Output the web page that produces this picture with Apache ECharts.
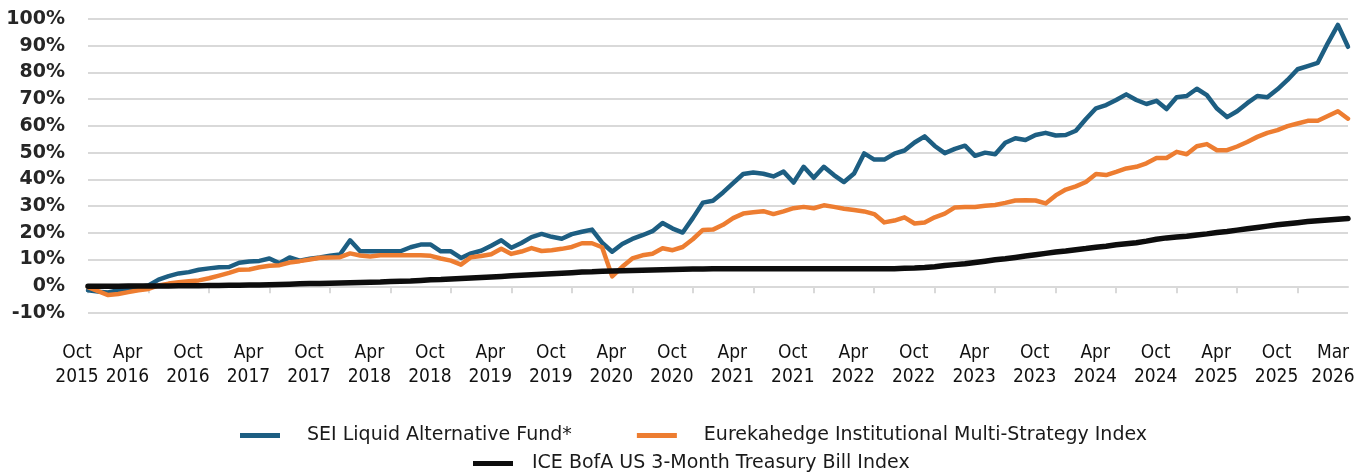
<!DOCTYPE html>
<html>
<head>
<meta charset="utf-8">
<script src="https://cdn.jsdelivr.net/npm/echarts@6/dist/echarts.min.js"></script>
<style>
  html, body { margin: 0; padding: 0; background: #fff; }
  #chart { width: 1372px; height: 473px; }
</style>
</head>
<body>
<div id="chart"></div>
<script>
// monthly points, Oct 2015 .. Mar 2026
const monthNames = ["Jan", "Feb", "Mar", "Apr", "May", "Jun", "Jul", "Aug", "Sep", "Oct", "Nov", "Dec"];
const months = [];
for (let y = 2015, m = 9; y < 2026 || m <= 2; m++) {
  if (m > 11) { m = 0; y++; }
  months.push(monthNames[m] + " " + y);
}

const seiFund = [
  -1.5, -2.0, -2.3, -1.5, -0.8, -0.3, 0.3, 2.5, 3.8, 4.8, 5.3, 6.2,
  6.7, 7.1, 7.2, 8.8, 9.3, 9.5, 10.4, 8.6, 10.8, 9.6, 10.3, 10.8,
  11.4, 11.9, 17.2, 13.1, 13.1, 13.1, 13.1, 13.1, 14.6, 15.6, 15.6, 13.1,
  13.1, 10.6, 12.3, 13.3, 15.2, 17.2, 14.4, 16.2, 18.4, 19.6, 18.5, 17.8,
  19.5, 20.4, 21.2, 16.3, 12.9, 15.8, 17.7, 19.1, 20.6, 23.7, 21.6, 20.1,
  25.5, 31.3, 32.0, 35.1, 38.6, 42.0, 42.6, 42.1, 41.1, 42.9, 38.8, 44.7,
  40.6, 44.7, 41.6, 39.0, 42.2, 49.7, 47.4, 47.4, 49.6, 50.8, 53.8, 56.1,
  52.5, 49.8, 51.4, 52.6, 48.8, 50.0, 49.4, 53.7, 55.4, 54.7, 56.6, 57.4,
  56.4, 56.6, 58.2, 62.6, 66.6, 67.8, 69.7, 71.8, 69.7, 68.2, 69.4, 66.3,
  70.7, 71.2, 73.9, 71.5, 66.5, 63.3, 65.5, 68.5, 71.2, 70.7, 73.7, 77.2,
  81.2, 82.4, 83.6, 91.0, 97.8, 89.6
];

const eurekahedge = [
  -0.3, -1.8, -3.3, -2.9, -2.2, -1.5, -1.0, 0.3, 1.0, 1.5, 1.9, 2.2,
  3.0, 4.0, 5.0, 6.2, 6.3, 7.1, 7.7, 7.9, 8.9, 9.4, 10.0, 10.7,
  10.8, 10.9, 12.3, 11.5, 11.1, 11.6, 11.6, 11.6, 11.6, 11.6, 11.4, 10.4,
  9.6, 8.1, 10.9, 11.3, 12.0, 14.0, 12.1, 13.0, 14.3, 13.2, 13.5, 14.0,
  14.7, 16.1, 16.1, 14.6, 3.7, 7.3, 10.4, 11.6, 12.2, 14.2, 13.5, 14.7,
  17.6, 21.1, 21.2, 23.0, 25.5, 27.2, 27.7, 28.1, 27.0, 28.0, 29.2, 29.7,
  29.2, 30.3, 29.7, 29.0, 28.5, 28.0, 27.0, 23.9, 24.6, 25.8, 23.5, 23.9,
  25.8, 27.2, 29.5, 29.7, 29.7, 30.1, 30.4, 31.2, 32.1, 32.2, 32.1, 31.0,
  34.0, 36.2, 37.4, 39.0, 42.0, 41.6, 42.8, 44.1, 44.7, 46.0, 48.0, 48.0,
  50.3, 49.4, 52.4, 53.2, 50.9, 50.9, 52.3, 54.0, 55.9, 57.4, 58.4, 59.9,
  60.9, 61.9, 61.9, 63.7, 65.5, 62.7
];

const tBill = [
  0.0, 0.0, 0.0, 0.0, 0.1, 0.1, 0.1, 0.1, 0.1, 0.2, 0.2, 0.2,
  0.3, 0.3, 0.4, 0.4, 0.5, 0.5, 0.6, 0.7, 0.8, 0.9, 1.0, 1.0,
  1.1, 1.2, 1.3, 1.4, 1.5, 1.6, 1.8, 1.9, 2.0, 2.2, 2.4, 2.5,
  2.7, 2.9, 3.1, 3.3, 3.5, 3.7, 3.9, 4.1, 4.3, 4.5, 4.7, 4.9,
  5.1, 5.3, 5.4, 5.6, 5.7, 5.8, 5.9, 6.0, 6.1, 6.2, 6.3, 6.4,
  6.5, 6.5, 6.6, 6.6, 6.6, 6.6, 6.6, 6.6, 6.6, 6.6, 6.6, 6.6,
  6.6, 6.6, 6.6, 6.6, 6.6, 6.6, 6.6, 6.6, 6.6, 6.7, 6.8, 7.0,
  7.3, 7.8, 8.1, 8.4, 8.9, 9.4, 9.9, 10.3, 10.8, 11.3, 11.8, 12.3,
  12.8, 13.2, 13.7, 14.1, 14.6, 15.0, 15.5, 15.9, 16.3, 16.9, 17.6, 18.1,
  18.4, 18.7, 19.2, 19.6, 20.1, 20.5, 21.0, 21.5, 22.0, 22.5, 23.0, 23.4,
  23.8, 24.2, 24.5, 24.8, 25.1, 25.4
];

const seriesNames = [
  "SEI Liquid Alternative Fund*",
  "Eurekahedge Institutional Multi-Strategy Index",
  "ICE BofA US 3-Month Treasury Bill Index"
];

const narrowFont = '"DejaVu Sans Condensed", "Liberation Sans Narrow", "DejaVu Sans", sans-serif';
const gridGray = "#d9d9d9";
const lastIdx = months.length - 1;

function lineSeries(name, data, color, width) {
  return {
    name: name,
    type: "line",
    data: data,
    xAxisIndex: 0,
    symbol: "none",
    color: color,
    lineStyle: { color: color, width: width, join: "round", cap: "round" },
    emphasis: { disabled: true }
  };
}

function legendText(gap) {
  return {
    fontFamily: '"DejaVu Sans", sans-serif',
    fontSize: 19,
    color: "#1a1a1a",
    padding: [0, 0, 0, gap]
  };
}

// labels sit a little left of their month; negative left padding moves the text
function shifted(px) {
  return { fontFamily: narrowFont, fontSize: 19, lineHeight: 24, color: "#111", padding: [0, px, 0, -px] };
}

// bottom label axis; showFn picks which months get a label
// (split over several axes so ECharts never drops one as overlapping)
function labelAxis(showFn) {
  return {
    type: "category",
    data: months,
    position: "bottom",
    boundaryGap: false,
    axisLine: { show: false, onZero: false },
    axisTick: { show: false },
    splitLine: { show: false },
    axisLabel: {
      margin: 28,
      showMinLabel: true,
      showMaxLabel: true,
      hideOverlap: false,
      interval: function (i) { return showFn(i); },
      formatter: function (val, i) {
        const tag = i === 0 ? "f" : (i === lastIdx ? "l" : "m");
        return "{" + tag + "|" + val.replace(" ", "\n") + "}";
      },
      rich: { f: shifted(11), m: shifted(21), l: shifted(15) }
    }
  };
}

const chart = echarts.init(document.getElementById("chart"));
chart.setOption({
  animation: false,
  backgroundColor: "#ffffff",
  grid: { left: 88, right: 24, top: 19, bottom: 160, containLabel: false, outerBoundsMode: "none" },
  legend: [
    {
      data: seriesNames.slice(0, 2),
      left: 240, top: 426, padding: 0,
      icon: "rect", itemWidth: 40, itemHeight: 5, itemGap: 65,
      textStyle: legendText(22)
    },
    {
      data: seriesNames.slice(2),
      left: 473, top: 454, padding: 0,
      icon: "rect", itemWidth: 40, itemHeight: 5,
      textStyle: legendText(14)
    }
  ],
  xAxis: [
    {
      // axis line + ticks sitting on 0%
      type: "category",
      data: months,
      boundaryGap: false,
      axisLine: { show: true, onZero: true, lineStyle: { color: gridGray, width: 2 } },
      axisTick: { show: true, interval: 5, length: 7, lineStyle: { color: gridGray, width: 2 } },
      axisLabel: { show: false },
      splitLine: { show: false }
    },
    // first and last month
    labelAxis(function (i) { return i === 0 || i === lastIdx; }),
    // Apr labels
    labelAxis(function (i) { return i % 12 === 6; }),
    // Oct labels after the first
    labelAxis(function (i) { return i % 12 === 0 && i !== 0; })
  ],
  yAxis: {
    type: "value",
    min: -10,
    max: 100,
    interval: 10,
    axisLine: { show: false },
    axisTick: { show: false },
    splitLine: { lineStyle: { color: gridGray, width: 2 } },
    axisLabel: {
      margin: 23,
      formatter: "{value}%",
      fontFamily: '"DejaVu Sans", sans-serif',
      fontWeight: "bold",
      fontSize: 19,
      color: "#262626"
    }
  },
  series: [
    lineSeries(seriesNames[0], seiFund, "#1d5e82", 4.5),
    lineSeries(seriesNames[1], eurekahedge, "#ed7d31", 4.5),
    lineSeries(seriesNames[2], tBill, "#0d0d0d", 5.5)
  ]
});
</script>
</body>
</html>
